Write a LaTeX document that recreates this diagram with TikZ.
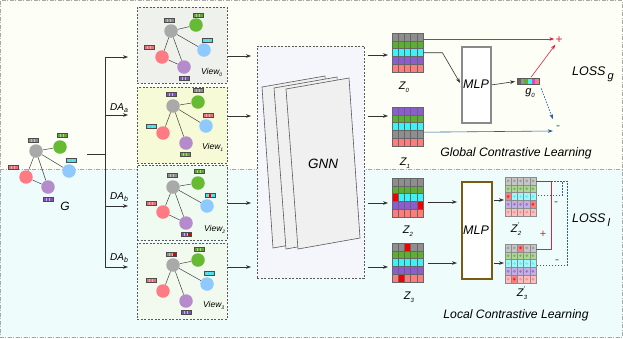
\documentclass[tikz,border=0pt]{standalone}
\usepackage{fontspec}
\setmainfont{Liberation Sans}
\usetikzlibrary{arrows.meta,calc}
\definecolor{bgtop}{HTML}{FDFEF6}
\definecolor{bgbot}{HTML}{EEFCFC}
\definecolor{framec}{HTML}{A8A8A8}
\definecolor{cgray}{HTML}{A9A9A9}
\definecolor{cgreen}{HTML}{66BB33}
\definecolor{cblue}{HTML}{8EC9FF}
\definecolor{cred}{HTML}{FF7B84}
\definecolor{cpurp}{HTML}{B58BCC}
\definecolor{tgray}{HTML}{8C8C8C}
\definecolor{tgreen}{HTML}{5BAA2A}
\definecolor{tcyan}{HTML}{33E8F5}
\definecolor{tred}{HTML}{F26A72}
\definecolor{tpurp}{HTML}{7F4FC4}
\definecolor{tbad}{HTML}{E00000}
\definecolor{mgray}{HTML}{8E8E8E}
\definecolor{mgreen}{HTML}{5CB030}
\definecolor{mcyan}{HTML}{3CF2F5}
\definecolor{mpurp}{HTML}{8C5CD0}
\definecolor{mpink}{HTML}{FF7C7C}
\definecolor{mred}{HTML}{F00000}
\definecolor{mmag}{HTML}{E040E0}
\definecolor{v0fill}{HTML}{EEF1EC}
\definecolor{v1fill}{HTML}{F6FAD6}
\definecolor{v2fill}{HTML}{EFFAF1}
\definecolor{v3fill}{HTML}{F2FAEF}
\definecolor{gnnfill}{HTML}{F5F5FC}
\definecolor{pagefill}{HTML}{F0F0F0}
\definecolor{posred}{HTML}{D8243C}
\definecolor{negblue}{HTML}{2C5E9E}
\definecolor{mlpgray}{HTML}{8A8A8A}
\definecolor{mlpbrown}{HTML}{7B5A12}
\newcommand{\setfs}[1]{\fontsize{#1}{#1}\selectfont}
\newcommand{\ftag}[5]{%
  \fill[#3] ({#1-5},{#2-2.25}) rectangle ({#1-1.667},{#2+2.25});
  \fill[#4] ({#1-1.667},{#2-2.25}) rectangle ({#1+1.667},{#2+2.25});
  \fill[#5] ({#1+1.667},{#2-2.25}) rectangle ({#1+5},{#2+2.25});
  \draw[white!75!black, line width=0.35pt] ({#1-1.667},{#2-2.25}) -- ({#1-1.667},{#2+2.25}) ({#1+1.667},{#2-2.25}) -- ({#1+1.667},{#2+2.25});
  \draw[black!70, line width=0.5pt] ({#1-5},{#2-2.25}) rectangle ({#1+5},{#2+2.25});
}
\newcommand{\zmat}[3]{%
  \foreach \rw [count=\i from 0] in {#3} {
    \foreach \cc [count=\j from 0] in \rw {
      \filldraw[fill=\cc, draw=black!60, line width=0.45pt] ({#1+6.2*\j},{#2+7.8*\i}) rectangle ++(6.2,7.8);
    }
  }
}
\newcommand{\zmatf}[3]{%
  \foreach \rw [count=\i from 0] in {#3} {
    \foreach \cc [count=\j from 0] in \rw {
      \filldraw[fill=\cc!50!white, draw=black!45, line width=0.45pt] ({#1+6.2*\j},{#2+7.8*\i}) rectangle ++(6.2,7.8);
      \fill[\cc!85!white] ({#1+6.2*\j+3.1},{#2+7.8*\i+3.9}) circle (1.5pt);
    }
  }
}
\newcommand{\zl}[1]{Z\raisebox{-3pt}{\setfs{6}#1}}
\newcommand{\zpl}[1]{Z\raisebox{4.5pt}{\setfs{7}'}\kern-1.2pt\raisebox{-3pt}{\setfs{6}#1}}
\begin{document}
\begin{tikzpicture}[x=1pt,y=-1pt,
  gn/.style={circle, inner sep=0, minimum size=13.5pt, draw=none},
  ge/.style={draw=black!75, line width=0.5pt},
  ln/.style={draw=black!80, line width=0.6pt},
  arr/.style={-{Stealth[length=5pt,width=3.6pt]}, line width=0.6pt, draw=black!80},
  posarr/.style={-{Stealth[length=5pt,width=3.6pt]}, line width=0.6pt, draw=posred},
  negarr/.style={-{Stealth[length=5pt,width=3.6pt]}, line width=0.6pt, draw=negblue},
  viewbox/.style={draw=black!65, dash pattern=on 2pt off 1.5pt, line width=0.6pt, inner sep=0, anchor=north west},
  mbox/.style={anchor=north west, minimum width=31pt, minimum height=39pt, inner sep=0, draw=none},
  ddot/.style={dash pattern=on 4pt off 1.5pt on 1pt off 1.5pt, line width=0.9pt},
  lbl/.style={font=\itshape, inner sep=0},
]
\useasboundingbox (0,0) rectangle (623,338);
% backgrounds
\fill[bgtop] (0,0) rectangle (623,169);
\fill[bgbot] (0,169) rectangle (623,338);
\draw[framec, ddot] (0,169) -- (623,169);
\draw[framec, ddot] (0.6,0.6) rectangle (622.4,337.4);

% ---------- original graph G ----------
\node[gn, fill=cgray] (Ga) at (36,151) {};
\node[gn, fill=cgreen] (Gg) at (60,147) {};
\node[gn, fill=cblue] (Gb) at (69,171) {};
\node[gn, fill=cred] (Gr) at (26,177) {};
\node[gn, fill=cpurp] (Gp) at (48,187) {};
\draw[ge] (Ga) -- (Gg) (Ga) -- (Gb) (Ga) -- (Gr) (Ga) -- (Gp) (Gr) -- (Gp);
\ftag{33}{140}{tgray}{tgray}{tgray}
\ftag{62}{135}{tgreen}{tgreen}{tgreen}
\ftag{71}{160}{tcyan}{tcyan}{tcyan}
\ftag{13}{167}{tred}{tred}{tred}
\ftag{48}{199}{tpurp}{tpurp}{tpurp}
\node[lbl, font=\itshape\setfs{12}] (Glab) at (65,206) {G};

% ---------- branching ----------
\coordinate (gout) at (87,154);
\coordinate (br) at (105,154);
\coordinate (b0) at (105,57);
\coordinate (b1) at (105,115);
\coordinate (b2) at (105,206);
\coordinate (b3) at (105,267);
\draw[ln] (gout) -- (br);
\draw[ln] (b0) -- (b3);

% ---------- views ----------
\node[viewbox, fill=v0fill, minimum width=90pt, minimum height=76pt] (V0) at (137,7) {};
\node[viewbox, fill=v1fill, minimum width=90pt, minimum height=76pt] (V1) at (137,87) {};
\node[viewbox, fill=v2fill, minimum width=90pt, minimum height=75pt] (V2) at (137,165) {};
\node[viewbox, fill=v3fill, minimum width=90pt, minimum height=76pt] (V3) at (137,243) {};

\draw[arr, shorten >=9pt] (b0) -- (V0.west |- b0);
\draw[arr, shorten >=9pt] (b1) -- (V1.west |- b1);
\draw[arr, shorten >=9pt] (b2) -- (V2.west |- b2);
\draw[arr, shorten >=9pt] (b3) -- (V3.west |- b3);
\node[lbl, anchor=west, font=\itshape\setfs{10}] (DAa) at (110,108) {DA\raisebox{-1.5pt}{\setfs{7}a}};
\node[lbl, anchor=west, font=\itshape\setfs{10}] (DAb) at (110,197) {DA\raisebox{-1.5pt}{\setfs{7}b}};
\node[lbl, anchor=west, font=\itshape\setfs{10}] (DAc) at (110,258) {DA\raisebox{-1.5pt}{\setfs{7}b}};

% view 0
\node[gn, fill=cgray] (Aa) at (171,31) {};
\node[gn, fill=cgreen] (Ag) at (196,25) {};
\node[gn, fill=cblue] (Ab) at (204,50) {};
\node[gn, fill=cred] (Ar) at (162,57) {};
\node[gn, fill=cpurp] (Ap) at (184,67) {};
\draw[ge] (Aa) -- (Ag) (Aa) -- (Ab) (Aa) -- (Ar) (Aa) -- (Ap) (Ar) -- (Ap);
\ftag{169}{20}{tgray}{tgray}{tgray}
\ftag{198}{15}{tgreen}{tgreen}{tgreen}
\ftag{207}{40}{tcyan}{tcyan}{tcyan}
\ftag{149}{47}{tred}{tred}{tred}
\ftag{184}{78}{tpurp}{tpurp}{tpurp}
\node[lbl, anchor=west, font=\itshape\setfs{8.5}] (L0) at (201,72) {View\raisebox{-2pt}{\setfs{5}0}};

% view 1
\node[gn, fill=cgray] (Ba) at (173,106) {};
\node[gn, fill=cgreen] (Bg) at (198,102) {};
\node[gn, fill=cblue] (Bb) at (206,126) {};
\node[gn, fill=cred] (Br) at (163,133) {};
\node[gn, fill=cpurp] (Bp) at (186,143) {};
\draw[ge] (Ba) -- (Bg) (Ba) -- (Bb) (Ba) -- (Br) (Ba) -- (Bp);
\ftag{171}{94}{tpurp}{tpurp}{tpurp}
\ftag{198}{90}{tgray}{tgray}{tgray}
\ftag{208}{115}{tred}{tred}{tred}
\ftag{151}{126}{tcyan}{tcyan}{tcyan}
\ftag{185}{154}{tgreen}{tgreen}{tgreen}
\node[lbl, anchor=west, font=\itshape\setfs{8.5}] (L1) at (202,147) {View\raisebox{-2pt}{\setfs{5}1}};

% view 2
\node[gn, fill=cgray] (Ca) at (173,187) {};
\node[gn, fill=cgreen] (Cg) at (198,183) {};
\node[gn, fill=cblue] (Cb) at (207,206) {};
\node[gn, fill=cred] (Cr) at (163,212) {};
\node[gn, fill=cpurp] (Cp) at (186,223) {};
\draw[ge] (Ca) -- (Cg) (Ca) -- (Cb) (Ca) -- (Cr) (Ca) -- (Cp) (Cr) -- (Cp);
\ftag{172}{175}{tgray}{tgray}{tgray}
\ftag{199}{171}{tgreen}{tgreen}{tgreen}
\ftag{210}{195}{tcyan}{tbad}{tcyan}
\ftag{151}{203}{tred}{tred}{tred}
\ftag{186}{234}{tpurp}{tpurp}{tbad}
\node[lbl, anchor=west, font=\itshape\setfs{8.5}] (L2) at (204,229) {View\raisebox{-2pt}{\setfs{5}2}};

% view 3
\node[gn, fill=cgray] (Da) at (173,265) {};
\node[gn, fill=cgreen] (Dg) at (198,260) {};
\node[gn, fill=cblue] (Db) at (207,284) {};
\node[gn, fill=cred] (Dr) at (163,291) {};
\node[gn, fill=cpurp] (Dp) at (186,301) {};
\draw[ge] (Da) -- (Dg) (Da) -- (Db) (Da) -- (Dr) (Da) -- (Dp);
\ftag{171}{254}{tgray}{tgray}{tbad}
\ftag{199}{249}{tgreen}{tgreen}{tgreen}
\ftag{209}{273}{tcyan}{tcyan}{tcyan}
\ftag{151}{280}{tred}{tred}{tred}
\ftag{186}{312}{tpurp}{tpurp}{tpurp}
\node[lbl, anchor=west, font=\itshape\setfs{8.5}] (L3) at (203,305) {View\raisebox{-2pt}{\setfs{5}3}};

% ---------- GNN ----------
\node[viewbox, fill=gnnfill, minimum width=107pt, minimum height=232pt] (GNN) at (257,46) {};
\filldraw[fill=pagefill, draw=black!65, line width=0.6pt] (262,87) -- (325,76) -- (336,237) -- (273,248) -- cycle;
\filldraw[fill=pagefill, draw=black!65, line width=0.6pt] (274,88) -- (337,77) -- (348,238) -- (286,249) -- cycle;
\filldraw[fill=pagefill, draw=black!65, line width=0.6pt] (286,89) -- (349,78) -- (360,238) -- (298,249) -- cycle;
\node[lbl, font=\itshape\setfs{13.5}] (GNNt) at (323,164) {GNN};

\draw[arr, shorten >=6pt] (V0.east |- 0,56) -- (GNN.west |- 0,56);
\draw[arr, shorten >=6pt] (V1.east |- 0,116) -- (GNN.west |- 0,116);
\draw[arr, shorten >=6pt] (V2.east |- 0,203) -- (GNN.west |- 0,203);
\draw[arr, shorten >=6pt] (V3.east |- 0,267) -- (GNN.west |- 0,267);

% ---------- embeddings ----------
\node[mbox] (Z0) at (392,33) {};
\node[mbox] (Z1) at (392,107) {};
\node[mbox] (Z2) at (392,178) {};
\node[mbox] (Z3) at (392,243) {};
\zmat{392}{33}{{mgray,mgray,mgray,mgray,mgray},{mgreen,mgreen,mgreen,mgreen,mgreen},{mcyan,mcyan,mcyan,mcyan,mcyan},{mpurp,mpurp,mpurp,mpurp,mpurp},{mpink,mpink,mpink,mpink,mpink}}
\zmat{392}{107}{{mpurp,mpurp,mpurp,mpurp,mpurp},{mgreen,mgreen,mgreen,mgreen,mgreen},{mcyan,mcyan,mcyan,mcyan,mcyan},{mgray,mgray,mgray,mgray,mgray},{mpink,mpink,mpink,mpink,mpink}}
\zmat{392}{178}{{mgray,mgray,mgray,mgray,mgray},{mgreen,mgreen,mgreen,mgreen,mgreen},{mred,mcyan,mcyan,mcyan,mcyan},{mpurp,mpurp,mpurp,mpurp,mred},{mpink,mpink,mpink,mpink,mpink}}
\zmat{392}{243}{{mgray,mgray,mred,mgray,mgray},{mgreen,mgreen,mgreen,mgreen,mgreen},{mcyan,mcyan,mcyan,mcyan,mcyan},{mpurp,mpurp,mpurp,mpurp,mpurp},{mpink,mred,mpink,mpink,mpink}}
\node[lbl, font=\itshape\setfs{11}] (Z0l) at (404,87) {\zl{0}};
\node[lbl, font=\itshape\setfs{11}] (Z1l) at (405,163) {\zl{1}};
\node[lbl, font=\itshape\setfs{11}] (Z2l) at (408,231) {\zl{2}};
\node[lbl, font=\itshape\setfs{11}] (Z3l) at (409,297) {\zl{3}};

\draw[arr, shorten <=3pt, shorten >=4pt] (GNN.east |- 0,55) -- (Z0.west |- 0,55);
\draw[arr, shorten <=3pt, shorten >=4pt] (GNN.east |- 0,116) -- (Z1.west |- 0,116);
\draw[arr, shorten <=3pt, shorten >=4pt] (GNN.east |- 0,203) -- (Z2.west |- 0,203);
\draw[arr, shorten <=3pt, shorten >=4pt] (GNN.east |- 0,267) -- (Z3.west |- 0,267);

% ---------- global branch ----------
\node[draw=mlpgray, line width=1.8pt, fill=white, anchor=north west, minimum width=29pt, minimum height=76pt, inner sep=0] (MLPg) at (461,46) {};
\node[lbl, font=\itshape\setfs{12.5}] (MLPgt) at (476,84) {MLP};
\node[anchor=north west, minimum width=22pt, minimum height=6pt, inner sep=0] (g0) at (517,78) {};
\foreach \cc [count=\j from 0] in {black!60,black!42,mgreen,mcyan,mmag,mpink}
  \fill[\cc] ({517+3.667*\j},78) rectangle ++(3.667,6);
\draw[black!65, line width=0.5pt] (517,78) rectangle (539,84);
\node[lbl, font=\itshape\setfs{11}] (g0l) at (530,93) {g\raisebox{-3pt}{\setfs{6}0}};

\node[lbl, text=posred, font=\setfs{12}] (plusg) at (559,40) {+};
\node[lbl, text=negblue, font=\setfs{12}] (minusg) at (558,128) {-};

\draw[arr] (Z0.east) -- ++(19,0) -- ($(MLPg.west)+(-1,-2)$);
\draw[arr, shorten >=2pt] (MLPg.east) -- (g0.west);
\draw[posarr] ($(Z0.north east)+(0,6)$) -- ($(plusg.west)+(-1,-1)$);
\draw[posarr] ($(g0.north)+(3,-1)$) -- ($(plusg.south west)+(0,1)$);
\draw[negarr, dash pattern=on 1.6pt off 1.2pt] ($(g0.south)+(13,4)$) -- ($(minusg.north west)+(-3,-7)$);
\draw[negarr] ($(Z1.east)+(0,5.5)$) -- ($(minusg.west)+(-3,3)$);

\node[lbl, anchor=west, font=\itshape\setfs{12.5}] (LOSSg) at (572,74) {LOSS\,\raisebox{-4pt}{\setfs{11}g}};
\node[lbl, font=\itshape\setfs{12.2}] (GCL) at (516,153) {Global Contrastive Learning};

% ---------- local branch ----------
\node[draw=mlpbrown, line width=2.2pt, fill=white, anchor=north west, minimum width=30pt, minimum height=97pt, inner sep=0] (MLPl) at (461,181) {};
\node[lbl, font=\itshape\setfs{12.5}] (MLPlt) at (476,230) {MLP};

\node[mbox] (Z2p) at (505,177) {};
\node[mbox] (Z3p) at (505,244) {};
\zmatf{505}{177}{{mgray,mgray,mgray,mgray,mgray},{mgreen,mgreen,mgreen,mgreen,mgreen},{mred,mcyan,mcyan,mcyan,mcyan},{mpurp,mpurp,mpurp,mpurp,mred},{mpink,mpink,mpink,mpink,mpink}}
\zmatf{505}{244}{{mgray,mgray,mred,mgray,mgray},{mgreen,mgreen,mgreen,mgreen,mgreen},{mcyan,mcyan,mcyan,mcyan,mcyan},{mpurp,mpurp,mpurp,mpurp,mpurp},{mpink,mred,mpink,mpink,mpink}}
\node[lbl, font=\itshape\setfs{11}] (Z2pl) at (516,229) {\zpl{2}};
\node[lbl, font=\itshape\setfs{11}] (Z3pl) at (522,293) {\zpl{3}};

\draw[arr, shorten <=5pt, shorten >=4pt] (Z2.east |- 0,202) -- (MLPl.west |- 0,202);
\draw[arr, shorten <=5pt, shorten >=4pt] (Z3.east |- 0,263) -- (MLPl.west |- 0,263);
\draw[arr, shorten <=1pt, shorten >=1pt] (MLPl.east |- 0,200) -- (Z2p.west |- 0,200);
\draw[arr, shorten <=1pt, shorten >=1pt] (MLPl.east |- 0,263) -- (Z3p.west |- 0,263);

\draw[posred, line width=0.6pt] ($(Z2p.north east)+(0,4)$) -| ($(Z3p.north east)+(15,5)$) -- ($(Z3p.north east)+(0,5)$);
\draw[negblue, line width=0.6pt, dash pattern=on 1.8pt off 1.2pt] ($(Z2p.north east)+(0,4)$) -| ($(Z2p.north east)+(26,18)$) -- ($(Z2p.north east)+(0,18)$);
\draw[negblue, line width=0.6pt, dash pattern=on 1.8pt off 1.2pt] ($(Z2p.north east)+(0,4)$) -| ($(Z3p.north east)+(31,21)$) -- ($(Z3p.north east)+(0,21)$);
\node[lbl, text=posred, font=\setfs{11}] (plusl) at (543,234) {+};
\node[lbl, text=negblue, font=\setfs{12}] (minusl1) at (556,204) {-};
\node[lbl, text=negblue, font=\setfs{12}] (minusl2) at (557,262) {-};

\node[lbl, anchor=west, font=\itshape\setfs{12.5}] (LOSSl) at (572,220) {LOSS\,\raisebox{-4pt}{\setfs{11}l}};
\node[lbl, font=\itshape\setfs{12.2}] (LCL) at (516,315) {Local Contrastive Learning};
\end{tikzpicture}
\end{document}
